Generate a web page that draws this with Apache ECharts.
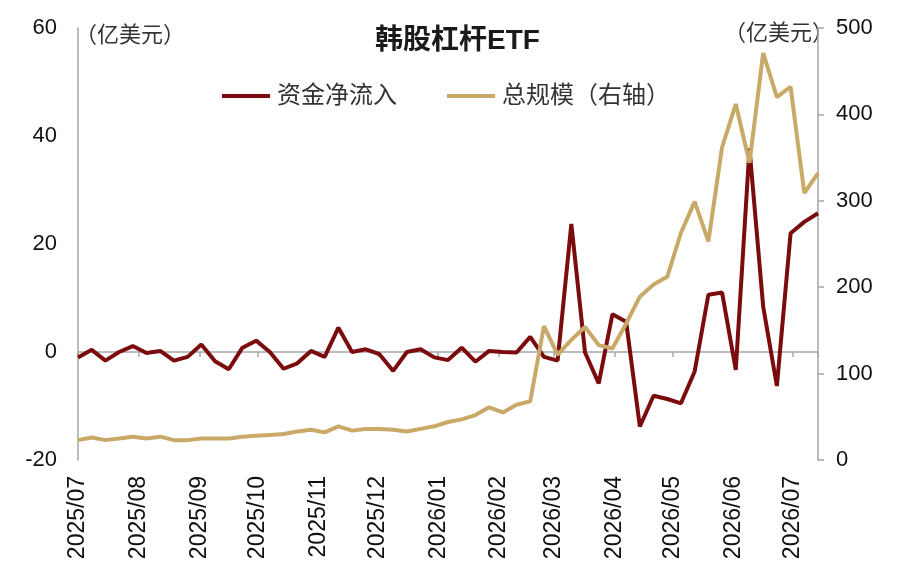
<!DOCTYPE html>
<html>
<head>
<meta charset="utf-8">
<script src="https://cdn.jsdelivr.net/npm/echarts@6/dist/echarts.min.js"></script>
<style>
html, body { margin: 0; padding: 0; background: #fff; }
#chart { width: 900px; height: 575px; }
</style>
</head>
<body>
<div id="chart"></div>
<script type="text/javascript">
// weekly dates
var weeks = [
    '2025-07-01','2025-07-08','2025-07-15','2025-07-22','2025-07-29',
    '2025-08-05','2025-08-12','2025-08-19','2025-08-26',
    '2025-09-02','2025-09-09','2025-09-16','2025-09-23','2025-09-30',
    '2025-10-07','2025-10-14','2025-10-21','2025-10-28',
    '2025-11-04','2025-11-11','2025-11-18','2025-11-25',
    '2025-12-02','2025-12-09','2025-12-16','2025-12-23','2025-12-30',
    '2026-01-06','2026-01-13','2026-01-20','2026-01-27',
    '2026-02-03','2026-02-10','2026-02-17','2026-02-24',
    '2026-03-03','2026-03-10','2026-03-17','2026-03-24','2026-03-31',
    '2026-04-07','2026-04-14','2026-04-21','2026-04-28',
    '2026-05-05','2026-05-12','2026-05-19','2026-05-26',
    '2026-06-02','2026-06-09','2026-06-16','2026-06-23','2026-06-30',
    '2026-07-07','2026-07-14'
];
// 资金净流入 (亿美元, left axis)
var netInflow = [
    -1.0, 0.4, -1.6, 0.0, 1.1, -0.2, 0.2, -1.6, -0.9, 1.4,
    -1.7, -3.2, 0.8, 2.1, 0.0, -3.1, -2.1, 0.2, -0.9, 4.5,
    0.0, 0.5, -0.4, -3.5, 0.0, 0.5, -1.0, -1.5, 0.8, -1.8,
    0.2, 0.0, -0.1, 2.8, -0.9, -1.6, 23.7, -0.1, -5.8, 7.0,
    5.6, -13.8, -8.1, -8.7, -9.5, -3.6, 10.6, 11.0, -3.3, 37.7,
    8.4, -6.3, 22.0, 24.1, 25.7
];
// 总规模 (亿美元, right axis)
var totalSize = [
    23, 26, 23, 25, 27, 25, 27, 23, 23, 25,
    25, 25, 27, 28, 29, 30, 33, 35, 32, 39,
    34, 36, 36, 35, 33, 36, 39, 44, 47, 52,
    61, 55, 64, 68, 155, 122, 139, 154, 133, 129,
    158, 189, 203, 212, 263, 299, 253, 362, 412, 344,
    471, 420, 432, 309, 332
];
var leftTicks = { min: -20, max: 60, step: 20 };
var rightTicks = { min: 0, max: 500, step: 100 };
var axisStart = '2025-07-01';
var axisEnd = '2026-07-14';

var FONT = '"Liberation Sans", "Noto Sans CJK SC", sans-serif';
var RED = '#7a0c0e';
var GOLD = '#c9a967';
var GRAY = '#a6a6a6';

function pair(vals) {
    return weeks.map(function (d, i) { return [d, vals[i]]; });
}

var chart = echarts.init(document.getElementById('chart'));
var option = {
    backgroundColor: '#fff',
    animation: false,
    textStyle: { fontFamily: FONT },
    title: {
        text: '韩股杠杆ETF',
        left: 370,
        top: 22,
        textStyle: { fontFamily: FONT, fontSize: 28, fontWeight: 'bold', color: '#1a1a1a' }
    },
    legend: {
        left: 217,
        top: 79,
        itemWidth: 48,
        itemHeight: 4,
        itemGap: 50,
        icon: 'rect',
        textStyle: { fontFamily: FONT, fontSize: 24, color: '#333', padding: [0, 0, 0, 2] },
        data: ['资金净流入', '总规模（右轴）']
    },
    graphic: [
        { type: 'text', left: 75, top: 25, style: { text: '（亿美元）', fontFamily: FONT, fontSize: 22, fill: '#333' } },
        { type: 'text', left: 724, top: 23, style: { text: '（亿美元）', fontFamily: FONT, fontSize: 22, fill: '#333' } }
    ],
    grid: { left: 78, right: 82, top: 28, bottom: 115, containLabel: false },
    xAxis: [
        {
            type: 'time',
            position: 'bottom',
            min: axisStart,
            max: axisEnd,
            splitNumber: 12,
            minInterval: 28 * 86400000,
            maxInterval: 31 * 86400000,
            axisLine: { show: false, onZero: false },
            axisTick: { show: false },
            splitLine: { show: false },
            axisLabel: {
                rotate: 90,
                margin: 16,
                fontSize: 23,
                color: '#111',
                fontFamily: FONT,
                showMaxLabel: false,
                hideOverlap: false,
                formatter: function (v) {
                    var d = new Date(v);
                    if (d.getDate() !== 1) return '';
                    var m = d.getMonth() + 1;
                    return d.getFullYear() + '/' + (m < 10 ? '0' + m : m);
                }
            }
        },
        {
            type: 'time',
            position: 'bottom',
            min: axisStart,
            max: axisEnd,
            splitNumber: 12,
            minInterval: 28 * 86400000,
            maxInterval: 31 * 86400000,
            axisLine: { show: true, onZero: true, lineStyle: { color: GRAY, width: 1.5 } },
            axisTick: { show: true, length: 5, lineStyle: { color: GRAY, width: 1.5 } },
            axisLabel: { show: false },
            splitLine: { show: false }
        }
    ],
    yAxis: [
        {
            type: 'value',
            min: leftTicks.min,
            max: leftTicks.max,
            interval: leftTicks.step,
            axisLine: { show: true, lineStyle: { color: GRAY, width: 1.5 } },
            axisTick: { show: false },
            splitLine: { show: false },
            axisLabel: { margin: 21, fontSize: 22, color: '#111', fontFamily: FONT }
        },
        {
            type: 'value',
            position: 'right',
            min: rightTicks.min,
            max: rightTicks.max,
            interval: rightTicks.step,
            axisLine: { show: true, lineStyle: { color: GRAY, width: 1.5 } },
            axisTick: { show: true, length: 6, lineStyle: { color: GRAY, width: 1.5 } },
            splitLine: { show: false },
            axisLabel: { margin: 18, fontSize: 22, color: '#111', fontFamily: FONT }
        }
    ],
    series: [
        {
            name: '资金净流入',
            type: 'line',
            xAxisIndex: 0,
            yAxisIndex: 0,
            symbol: 'none',
            color: RED,
            lineStyle: { width: 4, color: RED },
            data: pair(netInflow)
        },
        {
            name: '总规模（右轴）',
            type: 'line',
            xAxisIndex: 0,
            yAxisIndex: 1,
            symbol: 'none',
            color: GOLD,
            lineStyle: { width: 4, color: GOLD },
            data: pair(totalSize)
        }
    ]
};
chart.setOption(option);
</script>
</body>
</html>
